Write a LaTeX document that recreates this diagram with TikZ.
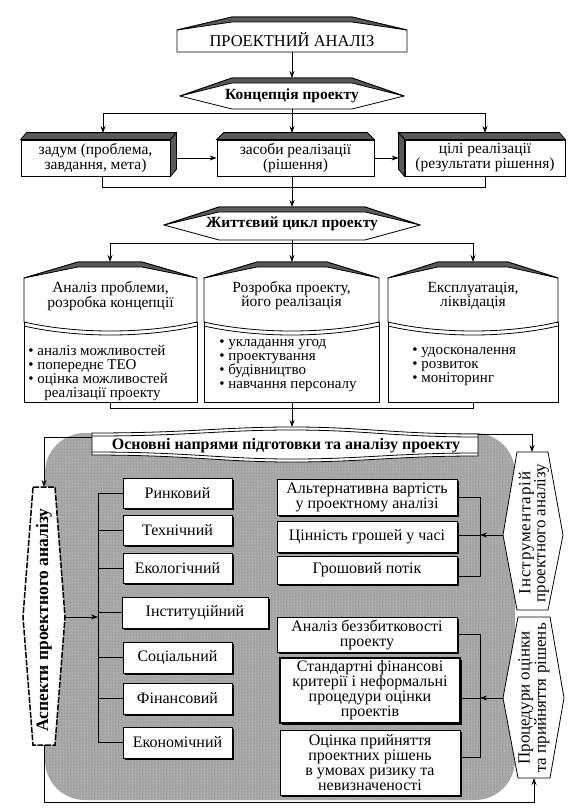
\documentclass[tikz,border=0pt]{standalone}
\usepackage{fontspec}
\setmainfont{Liberation Serif}
\usetikzlibrary{arrows.meta,calc,shadows,patterns}
\definecolor{faceg}{gray}{0.35}
\definecolor{areag}{gray}{0.64}
\newcommand{\fsUp}{\fontsize{15.5}{14}\selectfont}
\newcommand{\fsBul}{\fontsize{15}{14}\selectfont}
\newcommand{\fsLo}{\fontsize{16}{15}\selectfont}
\newcommand{\fsSide}{\fontsize{17}{15}\selectfont}
\newcommand{\fsB}{\fontsize{15.5}{15}\selectfont\bfseries}
\newcommand{\lcbox}[4]{%
  \pgfmathsetmacro{\wa}{#1+0.3*(#2-#1)}%
  \pgfmathsetmacro{\wb}{#1+0.7*(#2-#1)}%
  \draw[fill=white] (#1,322) rectangle (#2,402);
  \draw[fill=white] (#1,278) -- (#3,262) -- (#4,262) -- (#2,278) -- (#2,322)
     .. controls (\wb,334) and (\wa,334) .. (#1,322) -- cycle;
  \draw (#1,326) .. controls (\wa,338) and (\wb,338) .. (#2,326);
  \draw[darkface] (#1,278) -- (#3,262) -- (#4,262) -- (#2,278) -- (#4,267) -- (#3,267) -- cycle;
}
\begin{document}
\begin{tikzpicture}[x=1pt,y=-1pt,
  line width=0.8pt,
  arr/.style={-{Stealth[length=7pt,width=5pt]}},
  utxt/.style={font=\fsUp,align=center,inner sep=0pt},
  bultxt/.style={font=\fsBul,align=left,anchor=west,inner sep=0pt},
  ltxt/.style={font=\fsLo,align=center,inner sep=0pt},
  stxt/.style={font=\fsSide,align=center,inner sep=0pt},
  btxt/.style={font=\fsB,align=center,inner sep=0pt},
  ubox/.style={draw,fill=white,font=\fsUp,align=center,inner sep=0pt},
  lbox/.style={draw,fill=white,font=\fsLo,align=center,inner sep=0pt,
     drop shadow={shadow xshift=1.6pt,shadow yshift=-1.6pt,fill=black,opacity=1}},
  darkface/.style={fill=faceg,draw=black},
  banner/.style={draw=black,fill=white},
]
\useasboundingbox (0,0) rectangle (583,808);
\fill[white] (0,0) rectangle (583,808);

% ---------- title ----------
\draw[fill=white] (177,30) -- (232,17) -- (352,17) -- (407,30) -- (407,52) -- (177,52) -- cycle;
\draw[darkface] (177,30) -- (232,17) -- (352,17) -- (407,30) -- (352,22) -- (232,22) -- cycle;
\node[utxt,font=\fontsize{16.5}{15}\selectfont] (title) at (292,40) {ПРОЕКТНИЙ АНАЛІЗ};
\coordinate (titleS) at (292,52);

% ---------- concept ----------
\draw[fill=white] (180,96) -- (232,78) -- (352,78) -- (404,96) -- (352,109) -- (232,109) -- cycle;
\draw[darkface] (180,96) -- (232,78) -- (352,78) -- (404,96) -- (352,83) -- (232,83) -- cycle;
\node[btxt] (conc) at (292,96) {Концепція проекту};
\coordinate (concN) at (292,78);
\coordinate (concS) at (292,109);
\draw[arr] (titleS) -- (concN);

% ---------- row 1 ----------
\node[ubox,minimum width=149pt,minimum height=36pt] (zad) at (95.5,158) {задум (проблема,\\завдання, мета)};
\node[ubox,minimum width=157pt,minimum height=36pt] (zas) at (295.5,158) {засоби реалізації\\(рішення)};
\node[ubox,minimum width=160pt,minimum height=36pt] (tsil) at (485,158) {цілі реалізації\\(результати рішення)};
\draw[darkface] (zad.north west) -- ++(6,-7) -- ($(zad.north east)+(6,-7)$) -- (zad.north east) -- cycle;
\draw[darkface] (zad.north east) -- ++(6,-7) -- ($(zad.south east)+(6,-7)$) -- (zad.south east) -- cycle;
\draw[darkface] (zas.north west) -- ++(7,-7) -- ($(zas.north east)+(-7,-7)$) -- (zas.north east) -- cycle;
\draw[darkface] (tsil.north east) -- ++(-6,-7) -- ($(tsil.north west)+(-6,-7)$) -- (tsil.north west) -- cycle;
\draw[darkface] (tsil.north west) -- ++(-6,-7) -- ($(tsil.south west)+(-6,-7)$) -- (tsil.south west) -- cycle;

\coordinate (j1) at (292,113);
\coordinate (zadT) at (103,133);
\coordinate (zasT) at (292,133);
\coordinate (tsilT) at (485,133);
\draw (concS) -- (j1);
\draw (zadT |- j1) -- (tsilT |- j1);
\draw[arr] (zadT |- j1) -- (zadT);
\draw[arr] (j1) -- (zasT);
\draw[arr] (tsilT |- j1) -- (tsilT);
\draw[arr] ([xshift=6pt]zad.east) -- (zas.west);
\draw[arr] (zas.east) -- ([xshift=-6pt]tsil.west);

\coordinate (j2) at (292,187);
\coordinate (zadB) at ([xshift=6.5pt]zad.south);
\draw (zadB) -- (zadB |- j2) -- (tsil.south |- j2) -- (tsil.south);
\coordinate (zhN) at (292,207);
\draw[arr] (zas.south -| j2) -- (zhN);

% ---------- life cycle ----------
\draw[fill=white] (164,225) -- (219,207) -- (365,207) -- (420,225) -- (365,240) -- (219,240) -- cycle;
\draw[darkface] (164,225) -- (219,207) -- (365,207) -- (420,225) -- (365,212) -- (219,212) -- cycle;
\node[btxt] (zhyt) at (292,224) {Життєвий цикл проекту};
\coordinate (zhS) at (292,240);
\coordinate (j3) at (292,243);

\lcbox{24}{197}{78}{142}
\lcbox{204}{379}{257}{327}
\lcbox{388}{558}{438}{508}

\node[utxt] (lc1) at (110.5,296) {Аналіз проблеми,\\розробка концепції};
\node[utxt] (lc2) at (291.5,296) {Розробка проекту,\\його реалізація};
\node[utxt] (lc3) at (473,296) {Експлуатація,\\ліквідація};
\node[bultxt] (lc1b) at (28,373) {• аналіз можливостей\\• попереднє ТЕО\\• оцінка можливостей\\\hspace*{16pt}реалізації проекту};
\node[bultxt] (lc2b) at (219,366) {• укладання угод\\• проектування\\• будівництво\\• навчання персоналу};
\node[bultxt] (lc3b) at (412,367) {• удосконалення\\• розвиток\\• моніторинг};

\coordinate (lcT1) at (110,262);
\coordinate (lcT2) at (292,262);
\coordinate (lcT3) at (473,262);
\draw (zhS) -- (j3);
\draw (lcT1 |- j3) -- (lcT3 |- j3);
\draw[arr] (lcT1 |- j3) -- (lcT1);
\draw[arr] (j3) -- (lcT2);
\draw[arr] (lcT3 |- j3) -- (lcT3);

\coordinate (lcB1) at (110,402);
\coordinate (lcB2) at (292,402);
\coordinate (lcB3) at (473,402);
\coordinate (j4) at (292,408);
\draw (lcB1) -- (lcB1 |- j4) -- (lcB3 |- j4) -- (lcB3);
\coordinate (osnN) at (292,427);
\draw[arr] (lcB2) -- (osnN);

% ---------- grey area ----------
\fill[areag, rounded corners=40pt] (45,433) rectangle (515,800);
\fill[pattern=dots, pattern color=gray!25, rounded corners=40pt] (45,433) rectangle (515,800);

% ---------- main banner ----------
\draw[banner] (92,433) .. controls (190,433) and (220,427) .. (292,427)
   .. controls (364,427) and (394,434) .. (478,434) -- (478,456)
   .. controls (394,456) and (364,462) .. (292,462)
   .. controls (220,462) and (190,455) .. (92,455) -- cycle;
\draw (92,436) .. controls (190,436) and (220,430) .. (292,430) .. controls (364,430) and (394,437) .. (478,437);
\draw (92,452) .. controls (190,452) and (220,459) .. (292,459) .. controls (364,459) and (394,453) .. (478,453);
\node[btxt,font=\fontsize{16}{15}\selectfont\bfseries] (osn) at (286,446) {Основні напрями підготовки та аналізу проекту};
\coordinate (osnW) at (92,437);
\coordinate (osnE) at (478,434);

% ---------- side banners ----------
\draw[fill=white,line width=1.5pt,dash pattern=on 6pt off 1.5pt]
  (33,487) -- (55,487) -- (65,617) -- (55,745) -- (33,745) -- (23,617) -- cycle;
\node[btxt,rotate=90,font=\fontsize{17.5}{15}\selectfont\bfseries] (asp) at (44,620) {Аспекти проектного аналізу};
\coordinate (aspN) at (44,487);
\coordinate (aspS) at (44,745);
\coordinate (aspE) at (65,617);

\draw[banner] (517,452) -- (548,452) -- (563,535) -- (548,610) -- (517,610) -- (503,535) -- cycle;
\node[stxt,rotate=90] (inst) at (534,533) {{\addfontfeatures{LetterSpace=5}Інструментарій}\\проектного аналізу};
\coordinate (instN) at (532,452);
\coordinate (instW) at (503,535);

\draw[banner] (518,617) -- (550,617) -- (564,698) -- (550,778) -- (518,778) -- (503,698) -- cycle;
\node[stxt,rotate=90] (proc) at (534,698) {Процедури оцінки\\та прийняття рішень};
\coordinate (procS) at (534,778);
\coordinate (procW) at (503,698);

\draw[arr] (osnW) -| (aspN);
\draw[arr] (osnE) -| (instN);

% ---------- left column ----------
\node[lbox,minimum width=109pt,minimum height=30pt] (rynok) at (177.5,493) {Ринковий};
\node[lbox,minimum width=109pt,minimum height=30pt] (tekh) at (177.5,530) {Технічний};
\node[lbox,minimum width=109pt,minimum height=30pt] (ekol) at (177.5,568) {Екологічний};
\node[lbox,minimum width=146pt,minimum height=31pt] (inst2) at (195,612.5) {Інституційний};
\node[lbox,minimum width=109pt,minimum height=31pt] (sots) at (177.5,657.5) {Соціальний};
\node[lbox,minimum width=109pt,minimum height=31pt] (fin) at (177.5,698.5) {Фінансовий};
\node[lbox,minimum width=109pt,minimum height=31pt] (ekon) at (177.5,742.5) {Економічний};
\coordinate (colx) at (98,493);
\draw (rynok.west -| colx) -- (ekon.west -| colx);
\foreach \b in {rynok,tekh,ekol,inst2,sots,fin,ekon}{\draw (\b.west -| colx) -- (\b.west);}
\draw[arr] (aspE) -- (aspE -| colx);

% ---------- right column ----------
\node[lbox,minimum width=180pt,minimum height=36pt] (alt) at (367,497) {Альтернативна вартість\\у проектному аналізі};
\node[lbox,minimum width=180pt,minimum height=31pt] (tsin) at (367,536.5) {Цінність грошей у часі};
\node[lbox,minimum width=180pt,minimum height=28pt] (grosh) at (367,570) {Грошовий потік};
\node[lbox,minimum width=180pt,minimum height=35pt] (anal) at (367,634.5) {Аналіз беззбитковості\\проекту};
\node[lbox,line width=1.6pt,minimum width=180pt,minimum height=65pt] (stand) at (370,690.5) {Стандартні фінансові\\критерії і неформальні\\процедури оцінки\\проектів};
\node[lbox,minimum width=180pt,minimum height=65pt] (otsin) at (370,762.5) {Оцінка прийняття\\проектних рішень\\в умовах ризику та\\невизначеності};

\coordinate (brx) at (480,500);
\coordinate (groshR) at ([yshift=-6pt]grosh.east);
\coordinate (otsR) at ([yshift=5.5pt]otsin.east);
\draw (alt.east) -- (alt.east -| brx) -- (groshR -| brx) -- (groshR);
\draw (tsin.east |- instW) -- (instW -| brx);
\draw[arr] (instW) -- (instW -| brx);
\draw (anal.east) -- (anal.east -| brx) -- (otsR -| brx) -- (otsR);
\draw (stand.east |- procW) -- (procW -| brx);
\draw[arr] (procW) -- (procW -| brx);

\coordinate (botR) at (534,802);
\draw[arr] (aspS) |- (botR) -- (procS);
\end{tikzpicture}
\end{document}
